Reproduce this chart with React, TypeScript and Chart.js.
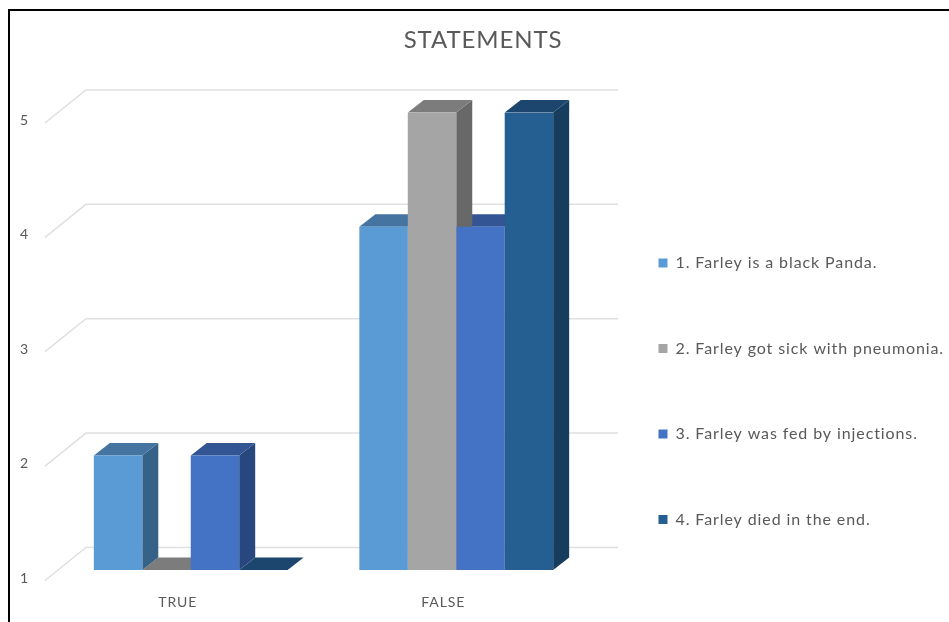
import React, { useEffect, useRef } from "react";
import { Chart, registerables } from "chart.js";

Chart.register(...registerables);

const categories = ["TRUE", "FALSE"];
const statement1 = [2, 4];
const statement2 = [1, 5];
const statement3 = [2, 4];
const statement4 = [1, 5];
const seriesNames = [
  "1. Farley is a black Panda.",
  "2. Farley got sick with pneumonia.",
  "3. Farley was fed by injections.",
  "4. Farley died in the end.",
];
const frontColors = ["#5B9BD5", "#A5A5A5", "#4472C4", "#255E91"];
const topColors = ["#44749F", "#7C7C7C", "#335593", "#1C466D"];
const sideColors = ["#356286", "#686868", "#29477F", "#163C5E"];

const TEXT = "#595959";
const FONT = "Lato, 'Open Sans', sans-serif";
const TRACKING = "0.9px";

// Offsets of the pseudo-3D box: bar depth, and where the wall and floor lines run.
const BAR_DX = 16;
const BAR_DY = 12.5;
const WALL_DY = 22.5;
const WALL_LEFT = 86;
const WALL_RIGHT = 618;
const FLOOR_LEFT = 45;
const FLOOR_DY = 10.5;

const setTracking = (chart: Chart) => {
  (chart.ctx as any).letterSpacing = TRACKING;
};

const depthPlugin = {
  id: "depth",
  beforeLayout: setTracking,
  beforeDraw: setTracking,
  afterLayout(chart: Chart) {
    // The category labels sit below the legend's lower bound; let them paint there.
    chart.scales.x.bottom = chart.height;
  },
  beforeDatasetsDraw(chart: Chart) {
    const { ctx } = chart;
    const yScale = chart.scales.y;

    // Wall and floor lines behind the bars, one per axis tick.
    ctx.save();
    ctx.strokeStyle = "#E0E0E0";
    ctx.lineWidth = 1.5;
    yScale.ticks.forEach((_t: unknown, i: number) => {
      const y = yScale.getPixelForTick(i);
      ctx.beginPath();
      ctx.moveTo(FLOOR_LEFT, y + FLOOR_DY);
      ctx.lineTo(WALL_LEFT, y - WALL_DY);
      ctx.lineTo(WALL_RIGHT, y - WALL_DY);
      ctx.stroke();
    });

    // Side and top faces, right to left, so nearer faces cover farther ones.
    for (let d = chart.data.datasets.length - 1; d >= 0; d--) {
      const meta = chart.getDatasetMeta(d);
      meta.data.forEach((el: any) => {
        const { x, y, base, width } = el.getProps(["x", "y", "base", "width"], true);
        const l = x - width / 2;
        const r = x + width / 2;
        ctx.fillStyle = sideColors[d];
        ctx.beginPath();
        ctx.moveTo(r, y);
        ctx.lineTo(r + BAR_DX, y - BAR_DY);
        ctx.lineTo(r + BAR_DX, base - BAR_DY);
        ctx.lineTo(r, base);
        ctx.closePath();
        ctx.fill();
        ctx.fillStyle = topColors[d];
        ctx.beginPath();
        ctx.moveTo(l, y);
        ctx.lineTo(l + BAR_DX, y - BAR_DY);
        ctx.lineTo(r + BAR_DX, y - BAR_DY);
        ctx.lineTo(r, y);
        ctx.closePath();
        ctx.fill();
      });
    }
    ctx.restore();
  },
};

export default function App() {
  const ref = useRef<HTMLCanvasElement>(null);

  useEffect(() => {
    const series = [statement1, statement2, statement3, statement4];
    const chart = new Chart(ref.current!, {
      type: "bar",
      plugins: [depthPlugin],
      data: {
        labels: categories,
        datasets: series.map((values, i) => ({
          label: seriesNames[i],
          data: values,
          base: 1,
          backgroundColor: frontColors[i],
          borderWidth: 0,
          categoryPercentage: 0.73,
          barPercentage: 1,
        })),
      },
      options: {
        animation: false,
        responsive: false,
        events: [],
        layout: { padding: { left: 17, right: 0, top: 0, bottom: 25 } },
        plugins: {
          tooltip: { enabled: false },
          title: {
            display: true,
            text: "STATEMENTS",
            color: TEXT,
            font: { family: FONT, size: 24, weight: "normal" },
            padding: { top: 26, bottom: 57.6 },
          },
          legend: {
            position: "right",
            align: "end",
            maxWidth: 360,
            labels: {
              color: TEXT,
              font: { family: FONT, size: 16 },
              boxWidth: 9,
              boxHeight: 9,
              padding: 69.5,
            },
          },
        },
        scales: {
          x: {
            grid: { display: false, drawTicks: false },
            border: { display: false },
            ticks: {
              color: TEXT,
              font: { family: FONT, size: 14 },
              padding: 24,
              labelOffset: -13,
              maxRotation: 0,
              autoSkip: false,
            },
            afterFit(scale: any) {
              scale.height = 27;
            },
          },
          y: {
            min: 1,
            max: 5,
            grid: { display: false, drawTicks: false },
            border: { display: false },
            ticks: {
              stepSize: 1,
              color: TEXT,
              font: { family: FONT, size: 14 },
              padding: 29,
              labelOffset: 8,
            },
            afterFit(scale: any) {
              scale.width = 41;
            },
          },
        },
      },
    });
    return () => chart.destroy();
  }, []);

  return (
    <div style={{ position: "fixed", left: 0, top: 0, width: 949, height: 622, overflow: "hidden", background: "#fff" }}>
      <div
        style={{
          position: "absolute",
          left: 8,
          top: 9,
          right: 0,
          bottom: 0,
          borderTop: "2px solid #000",
          borderLeft: "2px solid #000",
        }}
      />
      <canvas ref={ref} width={949} height={622} style={{ position: "absolute", left: 0, top: 0 }} />
    </div>
  );
}
